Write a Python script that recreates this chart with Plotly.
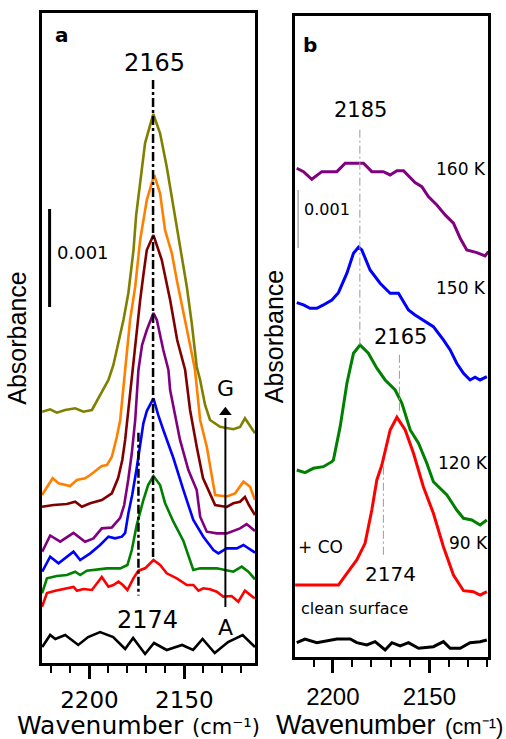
import plotly.graph_objects as go

# ---------------- Panel a data (wavenumber cm-1, absorbance in units of 1e-3, stacked) -------------
a_black_x = [2224.9, 2220.7, 2218.0, 2212.8, 2205.9, 2200.7, 2194.4, 2187.5, 2181.2, 2177.0, 2170.7,
             2166.0, 2159.3, 2151.2, 2145.4, 2140.4, 2134.0, 2127.0, 2119.3, 2112.8]
a_black_y = [0.163, 0.286, 0.245, 0.286, 0.184, 0.265, 0.316, 0.265, 0.143, 0.255, 0.092,
             0.204, 0.133, 0.184, 0.133, 0.245, 0.102, 0.214, 0.286, 0.163]

a_A_x = [2225.0, 2222.4, 2218.0, 2212.8, 2208.4, 2206.6, 2203.2, 2198.7, 2193.5, 2190.0, 2187.4,
         2184.7, 2182.4, 2180.0, 2176.8, 2174.2, 2170.7, 2166.3, 2162.8, 2159.3, 2154.0, 2148.7,
         2145.3, 2142.6, 2140.0, 2136.5, 2132.9, 2129.5, 2125.1, 2121.6, 2118.1, 2113.7, 2112.8]
a_A_y = [0.574, 0.714, 0.738, 0.755, 0.776, 0.738, 0.755, 0.745, 0.878, 0.779, 0.796,
         0.830, 0.796, 0.745, 0.867, 0.942, 0.966, 1.051, 1.000, 0.915, 0.864, 0.796,
         0.796, 0.738, 0.762, 0.752, 0.728, 0.677, 0.684, 0.626, 0.738, 0.670, 0.663]

a_B_x = [2225.0, 2222.4, 2217.2, 2211.9, 2207.5, 2204.9, 2201.4, 2196.1, 2190.8, 2183.8, 2180.0,
         2177.7, 2175.1, 2171.6, 2169.1, 2166.3, 2162.8, 2160.2, 2155.8, 2150.5, 2147.9, 2145.3,
         2141.7, 2132.9, 2128.6, 2124.2, 2119.8, 2116.3, 2112.8]
a_B_y = [0.711, 0.864, 0.888, 0.898, 0.932, 0.898, 0.942, 0.956, 0.966, 0.966, 1.000,
         1.153, 1.408, 1.663, 1.816, 1.908, 1.816, 1.633, 1.442, 1.245, 1.102, 0.949,
         0.966, 0.966, 0.949, 0.932, 0.983, 0.932, 0.854]

a_C_x = [2224.9, 2220.7, 2216.3, 2212.8, 2208.4, 2204.9, 2199.6, 2194.4, 2190.0, 2186.5, 2182.9,
         2181.2, 2179.5, 2177.5, 2175.1, 2171.6, 2169.8, 2166.3, 2163.8, 2161.1, 2155.8, 2150.5,
         2145.3, 2140.0, 2134.7, 2132.1, 2127.7, 2122.4, 2118.9, 2112.8]
a_C_y = [0.932, 1.085, 1.017, 1.068, 1.136, 1.051, 1.119, 1.204, 1.289, 1.272, 1.289,
         1.327, 1.528, 1.714, 1.990, 2.446, 2.571, 2.701, 2.531, 2.378, 2.092, 1.765,
         1.459, 1.289, 1.153, 1.119, 1.170, 1.170, 1.204, 1.126]

a_D_x = [2224.9, 2220.7, 2215.4, 2208.4, 2202.3, 2197.9, 2193.5, 2188.2, 2183.8, 2181.7, 2179.6,
         2177.7, 2175.9, 2174.2, 2172.3, 2169.8, 2166.3, 2164.5, 2161.1, 2158.4, 2157.5, 2154.9,
         2152.3, 2147.9, 2143.5, 2141.7, 2138.2, 2132.9, 2127.7, 2120.7, 2117.2, 2112.8]
a_D_y = [1.136, 1.301, 1.238, 1.327, 1.238, 1.272, 1.374, 1.383, 1.480, 1.612, 1.867,
         2.140, 2.480, 2.990, 3.245, 3.398, 3.571, 3.500, 3.194, 2.990, 2.786, 2.531,
         2.276, 1.969, 1.765, 1.493, 1.340, 1.323, 1.323, 1.374, 1.418, 1.347]

a_E_x = [2225.0, 2218.9, 2211.9, 2207.5, 2204.0, 2199.6, 2193.5, 2188.2, 2184.9, 2182.7, 2181.2,
         2178.6, 2177.2, 2173.3, 2171.6, 2169.8, 2166.3, 2161.9, 2157.5, 2153.8, 2149.6, 2147.0,
         2143.5, 2140.2, 2133.8, 2127.7, 2124.2, 2120.7, 2118.1, 2116.0, 2112.8]
a_E_y = [1.595, 1.612, 1.622, 1.646, 1.595, 1.630, 1.663, 1.732, 1.888, 2.071, 2.276,
         2.755, 2.990, 3.704, 3.959, 4.214, 4.367, 4.112, 3.704, 3.296, 2.990, 2.582,
         2.207, 1.888, 1.612, 1.592, 1.630, 1.646, 1.694, 1.612, 1.510]

a_F_x = [2225.0, 2219.4, 2216.3, 2210.2, 2206.6, 2202.3, 2199.6, 2196.1, 2193.5, 2190.8, 2188.2,
         2185.6, 2183.8, 2181.2, 2178.6, 2175.9, 2173.3, 2169.8, 2165.9, 2162.8, 2160.2, 2156.6,
         2154.0, 2147.0, 2144.4, 2141.7, 2138.2, 2133.8, 2127.7, 2123.3, 2118.9, 2115.4, 2112.8]
a_F_y = [1.714, 1.885, 1.834, 1.806, 1.867, 1.885, 1.918, 1.969, 2.010, 2.020, 2.105,
         2.306, 2.480, 2.990, 3.500, 3.840, 4.316, 4.724, 4.980, 4.793, 4.418, 4.181,
         3.908, 3.245, 2.990, 2.480, 2.207, 1.714, 1.699, 1.731, 1.850, 1.799, 1.663]

a_G_x = [2224.9, 2220.7, 2217.2, 2212.8, 2207.5, 2203.2, 2198.7, 2194.4, 2190.0, 2187.4, 2184.9,
         2182.1, 2179.5, 2176.8, 2175.4, 2173.3, 2170.7, 2166.4, 2162.8, 2159.3, 2155.8, 2152.3,
         2148.7, 2146.1, 2143.5, 2141.7, 2139.1, 2136.5, 2131.2, 2124.2, 2120.7, 2118.1, 2112.8]
a_G_y = [2.564, 2.589, 2.554, 2.582, 2.599, 2.564, 2.582, 2.735, 2.888, 3.041, 3.245,
         3.500, 3.776, 4.214, 4.571, 4.878, 5.306, 5.602, 5.405, 5.064, 4.653, 4.283,
         3.837, 3.466, 3.023, 2.888, 2.633, 2.480, 2.411, 2.385, 2.408, 2.497, 2.344]

a_colors = ["#000000", "#FF0000", "#008000", "#0000FF", "#800080", "#800000", "#FF8000", "#808000"]

# ---------------- Panel b data -------------
b_clean_x = [2218.7, 2214.4, 2208.3, 2204.9, 2197.9, 2191.0, 2187.6, 2182.4, 2178.1, 2172.9, 2169.4,
             2165.1, 2160.8, 2155.6, 2147.9, 2142.7, 2139.2, 2134.0, 2128.9, 2123.7, 2120.2]
b_clean_y = [0.247, 0.310, 0.247, 0.264, 0.310, 0.310, 0.247, 0.207, 0.264, 0.121, 0.247,
             0.190, 0.247, 0.150, 0.178, 0.264, 0.150, 0.150, 0.247, 0.264, 0.293]

b_90K_x = [2219.5, 2197.1, 2192.7, 2187.6, 2183.3, 2179.8, 2177.2, 2174.6, 2170.3, 2166.8, 2162.5,
           2158.2, 2153.1, 2147.9, 2142.7, 2137.5, 2132.3, 2127.2, 2123.7, 2120.2]
b_90K_y = [1.241, 1.241, 1.443, 1.672, 1.960, 2.534, 3.052, 3.310, 3.914, 4.133, 3.914,
           3.512, 2.936, 2.478, 1.902, 1.414, 1.143, 1.126, 1.069, 1.126]

b_120K_x = [2218.7, 2214.4, 2210.1, 2204.9, 2200.5, 2199.7, 2196.2, 2192.7, 2189.3, 2185.9, 2181.6,
            2177.2, 2172.9, 2167.7, 2164.2, 2159.9, 2155.6, 2151.3, 2147.9, 2140.9, 2135.8, 2132.3,
            2128.0, 2123.7, 2120.2]
b_120K_y = [3.224, 3.178, 3.253, 3.281, 3.367, 3.397, 3.971, 4.719, 5.236, 5.379, 5.236,
            4.978, 4.776, 4.603, 4.374, 3.914, 3.684, 3.340, 3.022, 2.793, 2.534, 2.391,
            2.362, 2.276, 2.362]

b_150K_x = [2218.7, 2215.2, 2211.8, 2208.3, 2204.9, 2200.5, 2197.1, 2192.7, 2189.3, 2186.7, 2185.0,
            2180.7, 2175.5, 2170.3, 2166.0, 2160.8, 2157.4, 2153.1, 2147.9, 2142.7, 2139.2, 2135.8,
            2132.3, 2128.9, 2126.3, 2123.7, 2120.2]
b_150K_y = [6.109, 6.069, 6.012, 6.012, 6.069, 6.155, 6.281, 6.616, 6.960, 7.064, 7.017,
            6.672, 6.443, 6.271, 6.271, 5.983, 5.897, 5.810, 5.695, 5.466, 5.293, 5.064,
            4.891, 4.776, 4.822, 4.776, 4.833]

b_160K_x = [2218.7, 2215.2, 2210.9, 2205.7, 2197.9, 2193.6, 2184.1, 2179.8, 2173.8, 2170.3, 2166.8,
            2163.4, 2157.4, 2153.9, 2150.5, 2146.1, 2141.8, 2137.5, 2134.0, 2130.6, 2125.4, 2121.1,
            2119.4]
b_160K_y = [8.426, 8.367, 8.236, 8.367, 8.367, 8.512, 8.512, 8.367, 8.367, 8.310, 8.384,
            8.384, 8.178, 8.109, 7.936, 7.793, 7.621, 7.478, 7.219, 7.017, 6.971, 6.914,
            6.988]

b_colors = ["#000000", "#FF0000", "#008000", "#0000FF", "#800080"]
b_temps = ["160 K", "150 K", "120 K", "90 K"]

SCALE = 1e-3
FONT = "DejaVu Sans, Arial, sans-serif"
FONT2 = "Liberation Sans, Arial, sans-serif"

fig = go.Figure()

def line(xs, ys, color, width, xa, ya, dash="solid"):
    fig.add_trace(go.Scatter(x=xs, y=[v * SCALE for v in ys], mode="lines",
                             line=dict(color=color, width=width, dash=dash), xaxis=xa, yaxis=ya,
                             showlegend=False, hoverinfo="skip"))

a_series = [(a_black_x, a_black_y), (a_A_x, a_A_y), (a_B_x, a_B_y), (a_C_x, a_C_y),
            (a_D_x, a_D_y), (a_E_x, a_E_y), (a_F_x, a_F_y), (a_G_x, a_G_y)]
for (xs, ys), c in zip(a_series, a_colors):
    line(xs, ys, c, 2.6, "x", "y")

b_series = [(b_clean_x, b_clean_y), (b_90K_x, b_90K_y), (b_120K_x, b_120K_y),
            (b_150K_x, b_150K_y), (b_160K_x, b_160K_y)]
for (xs, ys), c in zip(b_series, b_colors):
    line(xs, ys, c, 3, "x2", "y2")

# reference lines panel a (dash-dot)
line([2166.5, 2166.5], [5.95, 1.05], "black", 2.5, "x", "y", "dashdot")
line([2174.2, 2174.2], [2.35, 0.69], "black", 2.5, "x", "y", "dashdot")
# scale bar panel a
line([2221.0, 2221.0], [3.633, 4.633], "black", 3, "x", "y")
# arrow A -> G
line([2128.4, 2128.4], [0.571, 2.50], "black", 2, "x", "y")
fig.add_trace(go.Scatter(x=[2128.4], y=[2.56 * SCALE], mode="markers",
                         marker=dict(symbol="triangle-up", size=11, color="black", line=dict(width=0)),
                         xaxis="x", yaxis="y", showlegend=False, hoverinfo="skip"))

# reference lines panel b (gray dash-dot)
for xv, y0, y1 in [(2186.0, 9.09, 5.38), (2165.5, 5.21, 4.21), (2173.8, 3.28, 1.72)]:
    line([xv, xv], [y0, y1], "#9a9a9a", 1, "x2", "y2", "8px,3px,2px,3px")
# scale bar panel b
line([2218.0, 2218.0], [7.05, 8.05], "#808080", 1, "x2", "y2")

W, H = 506, 739
def px(x): return x / W
def py(y): return 1 - y / H

def xax(font, size, standoff):
    return dict(showline=True, linewidth=3, linecolor="black", mirror=True,
                showgrid=False, zeroline=False, ticks="outside", ticklen=13, tickwidth=3,
                tickcolor="black", dtick=50, tick0=2150, ticklabelstandoff=standoff,
                tickfont=dict(family=font, size=size, color="black"),
                minor=dict(ticks="outside", ticklen=7, tickwidth=2, tickcolor="black",
                           dtick=10, tick0=2150, showgrid=False))

def yax(standoff):
    return dict(showline=True, linewidth=3, linecolor="black", mirror=True,
                showgrid=False, zeroline=False, showticklabels=False, ticks="",
                title=dict(text="Absorbance", font=dict(family=FONT2, size=25, color="black"),
                           standoff=standoff))

fig.update_layout(
    width=W, height=H, margin=dict(l=0, r=0, t=0, b=0),
    paper_bgcolor="white", plot_bgcolor="white", showlegend=False,
    xaxis=dict(domain=[px(42), px(255)], range=[2225.0, 2112.8], anchor="y", **xax(FONT, 23, 1)),
    yaxis=dict(domain=[py(663), py(13)], range=[0, 6.633 * SCALE], anchor="x", **yax(6)),
    xaxis2=dict(domain=[px(295), px(488)], range=[2219.6, 2119.6], anchor="y2", **xax(FONT2, 24, 3)),
    yaxis2=dict(domain=[py(657), py(16)], range=[0, 11.05 * SCALE], anchor="x2", **yax(2)),
)

def txt(text, x, y, size, xref="paper", yref="paper", xanchor="center", yanchor="middle",
        angle=0, bold=False, color="black", family=FONT):
    fig.add_annotation(text=("<b>%s</b>" % text) if bold else text, x=x, y=y, xref=xref, yref=yref,
                       xanchor=xanchor, yanchor=yanchor, showarrow=False, textangle=angle,
                       font=dict(family=family, size=size, color=color))

# panel a labels
txt("a", px(62), py(35), 20, bold=True)
txt("2165", 2165.9, 6.122 * SCALE, 24, "x", "y")
txt("2174", 2169.4, 0.439 * SCALE, 24, "x", "y")
txt("G", 2128.1, 2.806 * SCALE, 22, "x", "y")
txt("A", 2128.1, 0.367 * SCALE, 22, "x", "y")
txt("0.001", 2218.0, 4.184 * SCALE, 18, "x", "y", xanchor="left")

# panel b labels
txt("b", px(310), py(45), 20, bold=True)
txt("2185", 2185.5, 9.431 * SCALE, 21, "x2", "y2")
txt(b_temps[0], 2133.5, 8.414 * SCALE, 17, "x2", "y2")
txt(b_temps[1], 2133.5, 6.362 * SCALE, 17, "x2", "y2")
txt("2165", 2165.1, 5.522 * SCALE, 21, "x2", "y2")
txt(b_temps[2], 2132.3, 3.35 * SCALE, 17, "x2", "y2")
txt(b_temps[3], 2129.7, 1.971 * SCALE, 17, "x2", "y2")
txt("+ CO", 2206.6, 1.902 * SCALE, 17, "x2", "y2")
txt("2174", 2170.3, 1.431 * SCALE, 20, "x2", "y2")
txt("clean surface", 2189.0, 0.828 * SCALE, 16, "x2", "y2")
txt("0.001", 2203.1, 7.707 * SCALE, 16, "x2", "y2")

# x-axis titles (word + unit as separate texts)
txt("Wavenumber", px(15), py(725.5), 25, xanchor="left")
txt("(cm\u207b\u00b9)", px(190), py(727), 21, xanchor="left")
txt("Wavenumber", px(274), py(724.5), 27, xanchor="left", family=FONT2)
txt("(cm\u207b\u00b9)", px(443), py(726), 22, xanchor="left", family=FONT2)

fig.write_html("out.html", config={"displayModeBar": False},
               post_script="document.body.style.margin='0';document.body.style.padding='0';"
                           "document.documentElement.style.overflow='hidden';")
